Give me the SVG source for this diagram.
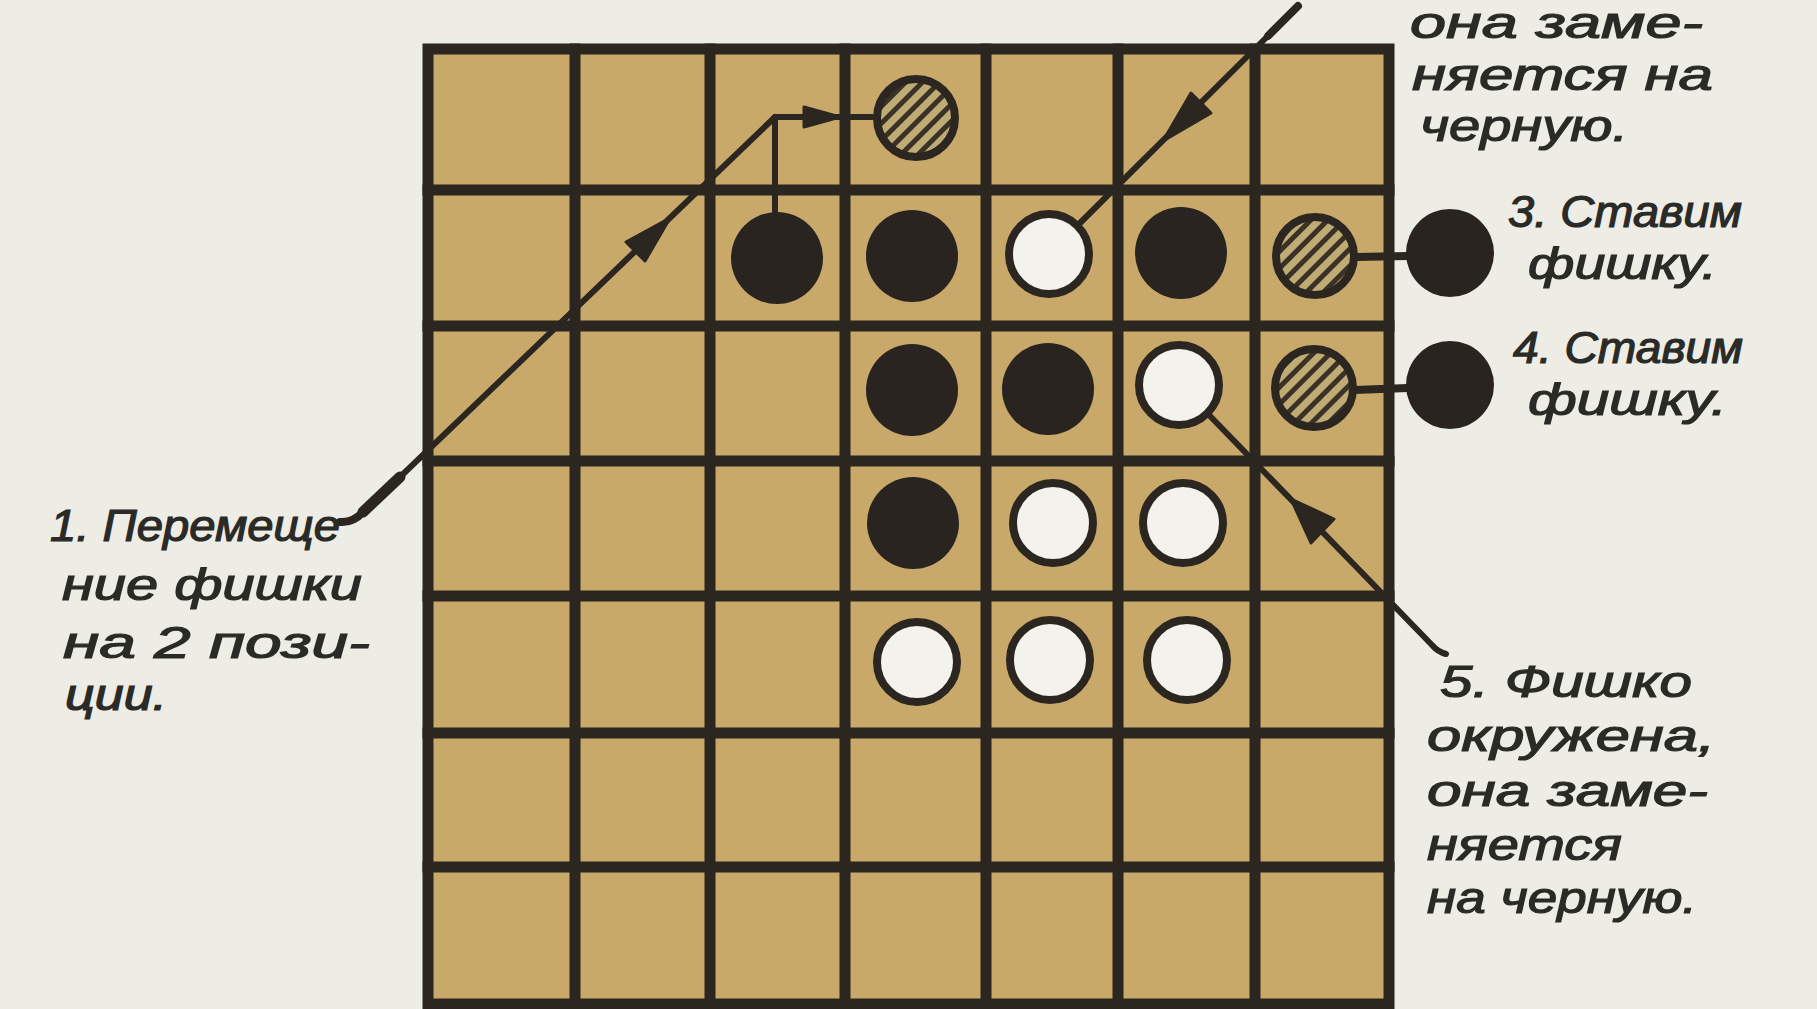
<svg xmlns="http://www.w3.org/2000/svg" width="1817" height="1009" viewBox="0 0 1817 1009">
<style>
.grid{stroke:#2b2620;stroke-width:11;fill:none;stroke-linecap:square}
.blk{fill:#2a2420}
.wht{fill:#f3f2ec;stroke:#2b2620;stroke-width:8}
.hat{fill:url(#hatch);stroke:#2b2620;stroke-width:8}
.con{stroke:#2b2620;stroke-width:6;fill:none;stroke-linecap:round;stroke-linejoin:round}
.ah{fill:#2b2620;stroke:#2b2620;stroke-width:3;stroke-linejoin:round}
.lbl{font-family:"Liberation Sans","DejaVu Sans",sans-serif;font-style:italic;font-size:44px;fill:#2a2a27;stroke:#2a2a27;stroke-width:1.2}
</style>
<defs>
<pattern id="hatch" patternUnits="userSpaceOnUse" width="12" height="12" patternTransform="rotate(-45)">
<rect width="12" height="12" fill="#bfab74"/>
<rect y="0" width="12" height="5" fill="#3a3226"/>
</pattern>
</defs>
<rect width="1817" height="1009" fill="#edece5"/>
<g id="board">
<rect x="428" y="49" width="961" height="955" fill="#c9a969"/>
<path class="grid" d="M575 49V1004M710 49V1004M845 49V1004M986 49V1004M1118 49V1004M1255 49V1004M428 190H1389M428 326H1389M428 461H1389M428 596H1389M428 733H1389M428 867H1389"/>
<rect class="grid" x="428" y="49" width="961" height="955"/>
</g>
<g id="connectors">
<path class="con" d="M775 212V117H872"/>
<path class="con" d="M400 477L775 117"/>
<path class="con" d="M400 477L363 512" style="stroke-width:11"/>
<path class="con" d="M363 512Q353 523 340 522" style="stroke-width:8"/>
<path class="con" d="M1298 6L1080 223"/>
<path class="con" d="M1298 6L1268 36" style="stroke-width:8"/>
<path class="con" d="M1210 416L1432 645Q1438 652 1446 654"/>
<path class="con" d="M1356 257L1408 256" style="stroke-width:8"/>
<path class="con" d="M1354 390L1408 388" style="stroke-width:8"/>
<path class="ah" d="M670 218L645 261L626 242Z"/>
<path class="ah" d="M840 117L804 107L804 127Z"/>
<path class="ah" d="M1163 141L1211 113L1191 93Z"/>
<path class="ah" d="M1291 499L1334 519L1311 543Z"/>
</g>
<g id="pieces">
<circle class="hat" cx="916" cy="118" r="39"/>
<circle class="blk" cx="777" cy="258" r="46"/>
<circle class="blk" cx="912" cy="256" r="46"/>
<circle class="wht" cx="1049" cy="254" r="40"/>
<circle class="blk" cx="1181" cy="253" r="46"/>
<circle class="hat" cx="1315" cy="256" r="39"/>
<circle class="blk" cx="912" cy="390" r="46"/>
<circle class="blk" cx="1048" cy="389" r="46"/>
<circle class="wht" cx="1179" cy="385" r="40"/>
<circle class="hat" cx="1314" cy="388" r="39"/>
<circle class="blk" cx="913" cy="523" r="46"/>
<circle class="wht" cx="1053" cy="523" r="40"/>
<circle class="wht" cx="1183" cy="523" r="40"/>
<circle class="wht" cx="917" cy="662" r="40"/>
<circle class="wht" cx="1050" cy="660" r="40"/>
<circle class="wht" cx="1187" cy="660" r="40"/>
<circle id="new-piece-3" class="blk" cx="1450" cy="253" r="44"/>
<circle id="new-piece-4" class="blk" cx="1450" cy="385" r="44"/>
</g>
<g id="label-1" class="lbl">
<text x="50" y="541" textLength="290" lengthAdjust="spacingAndGlyphs">1. Перемеще</text>
<text x="62" y="600" textLength="300" lengthAdjust="spacingAndGlyphs">ние фишки</text>
<text x="63" y="658" textLength="307" lengthAdjust="spacingAndGlyphs">на 2 пози-</text>
<text x="65" y="710" textLength="102" lengthAdjust="spacingAndGlyphs">ции.</text>
</g>
<g id="label-2" class="lbl">
<text x="1410" y="38" textLength="293" lengthAdjust="spacingAndGlyphs">она заме-</text>
<text x="1412" y="90" textLength="301" lengthAdjust="spacingAndGlyphs">няется на</text>
<text x="1420" y="141" textLength="208" lengthAdjust="spacingAndGlyphs">черную.</text>
</g>
<g id="label-3" class="lbl">
<text x="1508" y="227" textLength="234" lengthAdjust="spacingAndGlyphs">3. Ставим</text>
<text x="1528" y="279" textLength="189" lengthAdjust="spacingAndGlyphs">фишку.</text>
</g>
<g id="label-4" class="lbl">
<text x="1513" y="363" textLength="230" lengthAdjust="spacingAndGlyphs">4. Ставим</text>
<text x="1528" y="415" textLength="199" lengthAdjust="spacingAndGlyphs">фишку.</text>
</g>
<g id="label-5" class="lbl">
<text x="1440" y="697" textLength="252" lengthAdjust="spacingAndGlyphs">5. Фишко</text>
<text x="1427" y="751" textLength="288" lengthAdjust="spacingAndGlyphs">окружена,</text>
<text x="1427" y="806" textLength="281" lengthAdjust="spacingAndGlyphs">она заме-</text>
<text x="1427" y="860" textLength="195" lengthAdjust="spacingAndGlyphs">няется</text>
<text x="1427" y="913" textLength="270" lengthAdjust="spacingAndGlyphs">на черную.</text>
</g>
</svg>
